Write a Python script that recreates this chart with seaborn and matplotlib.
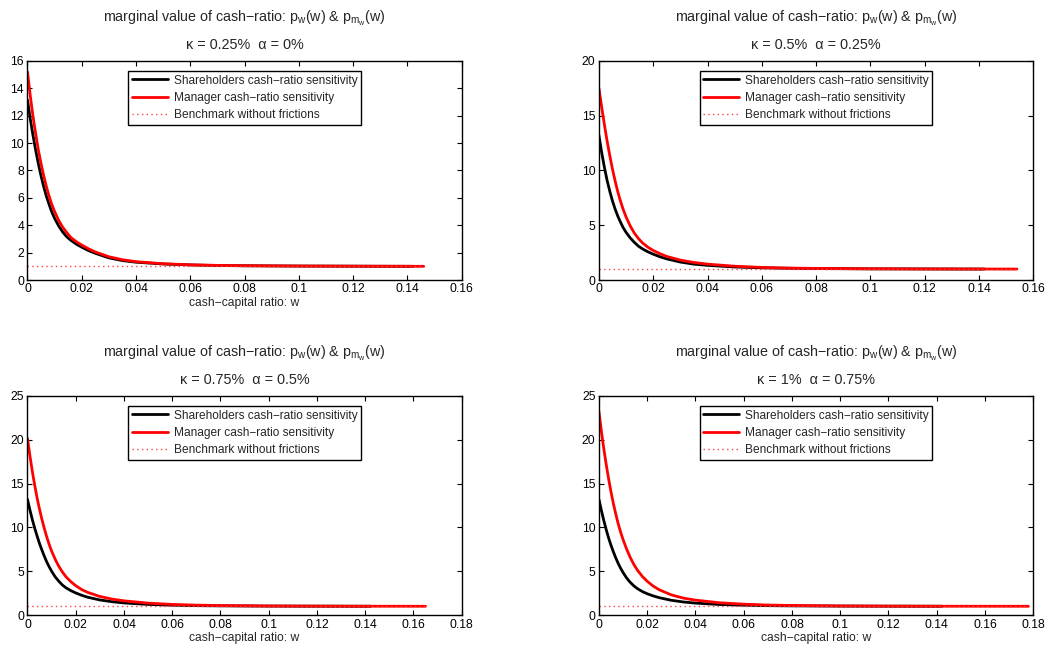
import numpy as np
import pandas as pd
import matplotlib
matplotlib.use("Agg")
import matplotlib.pyplot as plt
import seaborn as sns
from matplotlib.ticker import FormatStrFormatter, MultipleLocator

# ---------------- data ----------------
w_grid = [0, 0.001, 0.002, 0.003, 0.004, 0.005, 0.006, 0.007, 0.008, 0.009, 0.010,
          0.0115, 0.013, 0.0145, 0.016, 0.018, 0.020, 0.0225, 0.025,
          0.030, 0.035, 0.040, 0.050, 0.060, 0.070, 0.080, 0.100, 0.120]

# shareholders (black) -- end at w = 0.142
sh_end = 0.142
sh1 = [13.15, 11.8, 10.6, 9.5, 8.5, 7.6, 6.8, 6.1, 5.5, 4.95, 4.5,
       3.95, 3.5, 3.15, 2.9, 2.62, 2.4, 2.15, 1.95,
       1.62, 1.42, 1.3, 1.17, 1.1, 1.06, 1.04, 1.02, 1.01, 1.0]
sh2 = [13.2, 11.65, 10.3, 9.1, 8.1, 7.2, 6.45, 5.8, 5.25, 4.75, 4.35,
       3.85, 3.45, 3.1, 2.85, 2.58, 2.36, 2.12, 1.93,
       1.64, 1.45, 1.34, 1.19, 1.11, 1.07, 1.045, 1.02, 1.01, 1.0]
sh3 = [13.2, 12.0, 10.9, 9.9, 9.0, 8.15, 7.4, 6.7, 6.05, 5.5, 5.0,
       4.35, 3.85, 3.42, 3.1, 2.78, 2.52, 2.25, 2.03,
       1.72, 1.52, 1.38, 1.21, 1.12, 1.07, 1.045, 1.02, 1.01, 1.0]
sh4 = [13.2, 11.95, 10.8, 9.75, 8.8, 7.95, 7.2, 6.5, 5.88, 5.33, 4.85,
       4.22, 3.72, 3.32, 3.0, 2.68, 2.43, 2.18, 1.98,
       1.68, 1.49, 1.36, 1.2, 1.12, 1.07, 1.045, 1.02, 1.01, 1.0]

# manager (red) -- last two points at w = 0.140 and at the panel's end value
mg_end = [0.146, 0.154, 0.165, 0.178]
mg1 = [15.2, 13.5, 12.0, 10.7, 9.5, 8.5, 7.6, 6.8, 6.1, 5.5, 5.0,
       4.35, 3.85, 3.45, 3.1, 2.8, 2.55, 2.28, 2.05,
       1.7, 1.48, 1.34, 1.19, 1.11, 1.07, 1.045, 1.02, 1.01, 1.003, 1.0]
mg2 = [17.5, 15.8, 14.2, 12.7, 11.35, 10.1, 9.0, 8.0, 7.15, 6.4, 5.75,
       4.95, 4.3, 3.8, 3.4, 3.0, 2.7, 2.4, 2.15,
       1.82, 1.6, 1.45, 1.26, 1.15, 1.09, 1.06, 1.025, 1.01, 1.004, 1.0]
mg3 = [20.15, 18.2, 16.4, 14.8, 13.35, 12.05, 10.9, 9.85, 8.9, 8.05, 7.3,
       6.35, 5.55, 4.9, 4.35, 3.8, 3.35, 2.9, 2.58,
       2.12, 1.82, 1.62, 1.36, 1.21, 1.13, 1.08, 1.03, 1.015, 1.005, 1.0]
mg4 = [23.2, 21.0, 19.0, 17.2, 15.55, 14.05, 12.7, 11.5, 10.4, 9.45, 8.6,
       7.5, 6.55, 5.75, 5.1, 4.4, 3.85, 3.3, 2.88,
       2.3, 1.93, 1.7, 1.4, 1.24, 1.14, 1.09, 1.035, 1.015, 1.005, 1.0]

benchmark_value = 1.0

kappa_labels = ["0.25%", "0.5%", "0.75%", "1%"]
alpha_labels = ["0%", "0.25%", "0.5%", "0.75%"]
x_max = [0.16, 0.16, 0.18, 0.18]
y_max = [16, 20, 25, 25]
y_step = [2, 5, 5, 5]
show_xlabel = [True, False, True, True]

legend_labels = ["Shareholders cash\u2212ratio sensitivity",
                 "Manager cash\u2212ratio sensitivity",
                 "Benchmark without frictions"]
title_main = "marginal value of cash\u2212ratio: p$_w$(w) & p$_{m_w}$(w)"

# ---------------- style ----------------
sns.set_theme(style="white")
plt.rcParams.update({
    "font.family": ["Liberation Sans", "DejaVu Sans"],
    "mathtext.default": "regular",
    "xtick.direction": "in",
    "ytick.direction": "in",
    "xtick.top": True,
    "ytick.right": True,
    "xtick.bottom": True,
    "ytick.left": True,
    "xtick.major.size": 3.5,
    "ytick.major.size": 3.5,
    "xtick.major.width": 0.8,
    "ytick.major.width": 0.8,
    "xtick.labelsize": 8.7,
    "ytick.labelsize": 8.7,
    "xtick.color": "black",
    "ytick.color": "black",
    "axes.edgecolor": "black",
    "axes.linewidth": 1.0,
    "xtick.major.pad": 2.5,
    "ytick.major.pad": 2.5,
})

fig = plt.figure(figsize=(10.53, 6.5), dpi=100)
lefts = [0.0261, 0.5688, 0.0261, 0.5688]
bottoms = [0.5692, 0.5692, 0.0538, 0.0538]
W, H = 0.4124, 0.337

sh_all = [sh1, sh2, sh3, sh4]
mg_all = [mg1, mg2, mg3, mg4]

for i in range(4):
    ax = fig.add_axes([lefts[i], bottoms[i], W, H])
    sx = w_grid + [sh_end]
    mx = w_grid + [0.140, mg_end[i]]
    df_sh = pd.DataFrame({"w": sx, "p": sh_all[i]})
    df_mg = pd.DataFrame({"w": mx, "p": mg_all[i]})
    df_bm = pd.DataFrame({"w": [0.0, mg_end[i]], "p": [benchmark_value, benchmark_value]})

    sns.lineplot(data=df_sh, x="w", y="p", color="black", lw=2.0, ax=ax,
                 estimator=None, sort=False, label=legend_labels[0])
    sns.lineplot(data=df_mg, x="w", y="p", color="#ff0000", lw=2.0, ax=ax,
                 estimator=None, sort=False, label=legend_labels[1])
    sns.lineplot(data=df_bm, x="w", y="p", color="#ff4040", lw=1.0, ax=ax,
                 estimator=None, sort=False, label=legend_labels[2],
                 linestyle=(0, (1, 2.4)))

    ax.set_xlim(0, x_max[i])
    ax.set_ylim(0, y_max[i])
    ax.xaxis.set_major_locator(MultipleLocator(0.02))
    ax.yaxis.set_major_locator(MultipleLocator(y_step[i]))
    ax.xaxis.set_major_formatter(FormatStrFormatter("%g"))
    ax.yaxis.set_major_formatter(FormatStrFormatter("%g"))
    for s in ax.spines.values():
        s.set_visible(True)
        s.set_color("black")
    ax.set_ylabel("")
    if show_xlabel[i]:
        ax.set_xlabel("cash\u2212capital ratio: w", fontsize=8.7, labelpad=1)
    else:
        ax.set_xlabel("")

    ax.text(0.5, 1.0 + 43 / 219, title_main, transform=ax.transAxes,
            ha="center", va="center", fontsize=10.3)
    ax.text(0.5, 1.0 + 15.5 / 219,
            "\u03ba = " + kappa_labels[i] + "  \u03b1 = " + alpha_labels[i],
            transform=ax.transAxes, ha="center", va="center", fontsize=10.4)

    leg = ax.legend(loc="upper center", bbox_to_anchor=(0.5, 0.954), fontsize=8.6,
                    frameon=True, fancybox=False, framealpha=1, edgecolor="black",
                    borderpad=0.3, labelspacing=0.45, handlelength=3.0,
                    handletextpad=0.5, borderaxespad=0)
    leg.get_frame().set_linewidth(1.0)

fig.savefig("out.png", dpi=100)
